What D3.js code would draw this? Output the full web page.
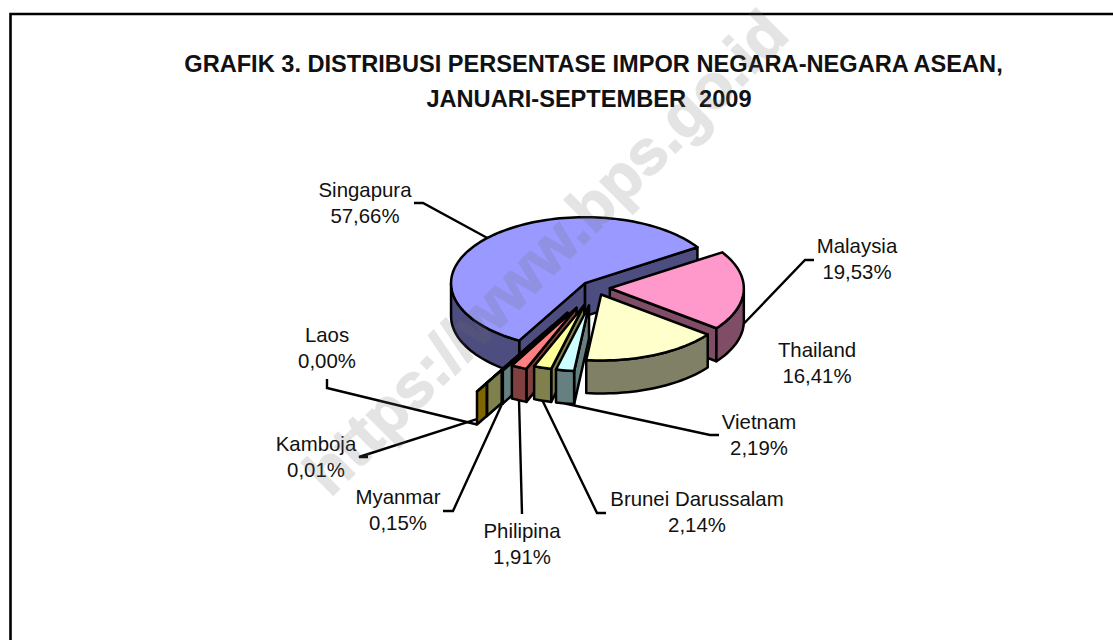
<!DOCTYPE html>
<html>
<head>
    <title>Grafik 3</title>
    <style>
        html, body { margin: 0; padding: 0; background: #fff; }
        svg { display: block; }
        text { font-family: "Liberation Sans", Arial, sans-serif; fill: #111; }
    </style>
</head>
<body>
    <div id="chart"></div>

    <script src="https://cdnjs.cloudflare.com/ajax/libs/d3/7.8.5/d3.min.js"></script>
    <script>
        // Data, clockwise from the Malaysia slice
        const countries = ["Malaysia", "Thailand", "Vietnam", "Brunei Darussalam", "Philipina", "Myanmar", "Kamboja", "Laos", "Singapura"];
        const shares = [19.53, 16.41, 2.19, 2.14, 1.91, 0.15, 0.01, 0.00, 57.66];
        const titleLines = ["GRAFIK 3. DISTRIBUSI PERSENTASE IMPOR NEGARA-NEGARA ASEAN,", "JANUARI-SEPTEMBER  2009"];

        // Styling, same order as countries
        const colors = ["#FF99CC", "#FFFFCC", "#CCFFFF", "#FFFF99", "#FF8080", "#CCFFFF", "#FFFF99", "#FFCC00", "#9999FF"];
        const explode = [0.107, 0.107, 0.27, 0.27, 0.33, 0.43, 0.65, 0.80, 0.107];
        // painter's order, back to front
        const drawOrder = ["Singapura", "Malaysia", "Laos", "Kamboja", "Myanmar", "Philipina", "Brunei Darussalam", "Vietnam", "Thailand"];

        // Label placement: centre x, first baseline, leader elbow
        const labelPlace = {
            "Singapura": { x: 365, y: 197, elbow: [[414, 203], [423, 203]] },
            "Malaysia": { x: 857, y: 253, elbow: [[814, 260], [805, 260]] },
            "Thailand": { x: 817, y: 357 },
            "Vietnam": { x: 759, y: 429, elbow: [[719, 435], [710, 435]] },
            "Brunei Darussalam": { x: 697, y: 506, elbow: [[606, 513], [597, 513]] },
            "Philipina": { x: 522, y: 538, elbow: [[522, 514]] },
            "Myanmar": { x: 398, y: 504, elbow: [[443, 511], [453, 511]] },
            "Kamboja": { x: 316, y: 451, elbow: [[368, 457], [359, 457]] },
            "Laos": { x: 327, y: 342, elbow: [[327, 379], [327, 388]] }
        };

        const width = 1113;
        const height = 640;
        const cx = 595.5, cy = 288;
        const rx = 134, ry = 66, depth = 33;
        const rad = Math.PI / 180;
        const startAngle = 57 * rad;

        const svg = d3.select("#chart").append("svg")
            .attr("width", width)
            .attr("height", height);

        // Frame: only the top and left edges are in the picture
        svg.append("path")
            .attr("d", `M10.5,${height}V14H${width}`)
            .attr("fill", "none")
            .attr("stroke", "#000")
            .attr("stroke-width", 2.6);

        svg.append("g").selectAll("text")
            .data(titleLines)
            .join("text")
            .attr("x", (d, i) => i ? 589 : 593.5)
            .attr("y", (d, i) => 72 + i * 35)
            .attr("text-anchor", "middle")
            .attr("font-size", 23.6)
            .attr("font-weight", "bold")
            .style("white-space", "pre")
            .text(d => d);

        const pie = d3.pie().sort(null).value(d => d.share)
            .startAngle(startAngle)
            .endAngle(startAngle + 2 * Math.PI);

        const slices = pie(countries.map((name, i) => ({ name, share: shares[i], color: colors[i], explode: explode[i] })))
            .map(d => {
                const mid = (d.startAngle + d.endAngle) / 2;
                return {
                    ...d,
                    name: d.data.name,
                    mid,
                    ax: cx + d.data.explode * rx * Math.sin(mid),
                    ay: cy - d.data.explode * ry * Math.cos(mid)
                };
            });

        // Point on the pie plane of a slice, lifted down by z
        function rim(s, angle, z = 0) {
            return [s.ax + rx * Math.sin(angle), s.ay - ry * Math.cos(angle) + z];
        }

        function arcPoints(s, a0, a1, z = 0) {
            const n = Math.max(2, Math.ceil((a1 - a0) / (2 * rad)));
            return d3.range(n + 1).map(i => rim(s, a0 + (a1 - a0) * i / n, z));
        }

        const line = d3.line();

        // Leader lines go under the slices
        const leaders = svg.append("g")
            .attr("fill", "none")
            .attr("stroke", "#000")
            .attr("stroke-width", 2.4);

        slices.forEach(s => {
            const place = labelPlace[s.name];
            if (!place.elbow) return;
            const z = Math.cos(s.mid) < 0 ? depth : 0;
            leaders.append("path").attr("d", line([...place.elbow, rim(s, s.mid, z)]));
        });

        // Slices
        const pieGroup = svg.append("g")
            .attr("stroke", "#000")
            .attr("stroke-width", 2.5)
            .attr("stroke-linejoin", "round");

        function wallColor(c) {
            const rgb = d3.rgb(c);
            return d3.rgb(rgb.r / 2, rgb.g / 2, rgb.b / 2).formatHex();
        }

        function sideWall(g, s, angle, fill) {
            const apex = [s.ax, s.ay];
            const edge = rim(s, angle);
            g.append("path")
                .attr("fill", fill)
                .attr("d", line([apex, edge, [edge[0], edge[1] + depth], [apex[0], apex[1] + depth]]) + "Z");
        }

        drawOrder.forEach(name => {
            const s = slices.find(d => d.name === name);
            const g = pieGroup.append("g");
            const fill = wallColor(s.data.color);

            // the wall on the lower-angle side shows when it faces the viewer
            if (Math.sin(s.startAngle) < 0) sideWall(g, s, s.startAngle, fill);
            if (Math.sin(s.endAngle) > 0) sideWall(g, s, s.endAngle, fill);

            // curved outer wall, front half only (90..270 degrees, also one turn up)
            [0, 2 * Math.PI].forEach(turn => {
                const a0 = Math.max(s.startAngle, 90 * rad + turn);
                const a1 = Math.min(s.endAngle, 270 * rad + turn);
                if (a1 <= a0) return;
                const top = arcPoints(s, a0, a1);
                const bottom = arcPoints(s, a0, a1, depth).reverse();
                g.append("path").attr("fill", fill).attr("d", line([...top, ...bottom]) + "Z");
            });

            g.append("path")
                .attr("fill", s.data.color)
                .attr("d", line([[s.ax, s.ay], ...arcPoints(s, s.startAngle, s.endAngle)]) + "Z");
        });

        // Labels
        const labels = svg.append("g")
            .attr("text-anchor", "middle")
            .attr("font-size", 20.4);

        slices.forEach(s => {
            const place = labelPlace[s.name];
            labels.append("text").attr("x", place.x).attr("y", place.y).text(s.name);
            labels.append("text").attr("x", place.x).attr("y", place.y + 26)
                .text(d3.format(".2f")(s.data.share).replace(".", ",") + "%");
        });

        // Watermark over everything
        svg.append("text")
            .attr("transform", "translate(549,256) rotate(-45)")
            .attr("text-anchor", "middle")
            .attr("dominant-baseline", "middle")
            .attr("font-size", 63)
            .attr("font-weight", "bold")
            .attr("opacity", 0.18)
            .style("fill", "#6e6e6e")
            .style("stroke", "#6e6e6e")
            .style("stroke-width", 1.5)
            .text("https://www.bps.go.id");
    </script>
</body>
</html>
